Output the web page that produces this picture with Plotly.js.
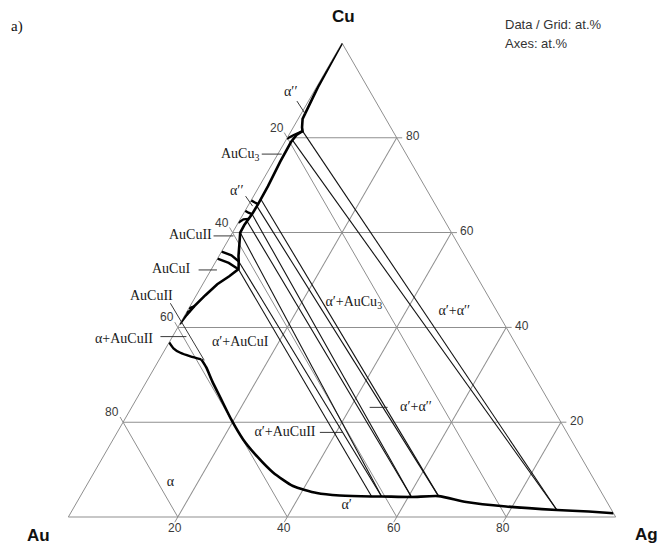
<!DOCTYPE html>
<html>
<head>
<meta charset="utf-8">
<script src="https://cdn.plot.ly/plotly-3.0.1.min.js"></script>
<style>
  html, body { margin: 0; padding: 0; background: #fff; }
  #chart { width: 662px; height: 549px; }
</style>
</head>
<body>
<div id="chart"></div>
<script>
// Au–Cu–Ag isothermal section, compositions in at.% (Cu, Ag); Au = 100 - Cu - Ag.

// Boundary of the ordered / Cu-rich phases along the Au–Cu side
const orderedSideCu = [100, 90.7, 84.0, 82.2, 81.4, 80.6, 79.1, 74.9, 69.8, 66.0, 63.9, 61.6, 60.0, 57.5, 55.1, 54.0, 52.3, 50.8, 49.1, 46.8, 44.5, 42.6, 40.7];
const orderedSideAg = [0, 0.25, 0.8, 1.6, 2.1, 1.4, 1.13, 1.24, 1.58, 1.67, 1.62, 1.35, 1.4, 2.5, 3.54, 4.13, 4.95, 4.0, 2.66, 1.64, 0.78, 0.29, 0];

// α / α+AuCuII boundary
const alphaSideCu = [36.85, 35.6, 34.65, 33.9, 33.26];
const alphaSideAg = [0, 1.4, 3.15, 5.35, 7.66];

// α′ (Ag-rich) boundary
const silverSideCu = [33.26, 31.57, 28.62, 25.24, 20.59, 16.37, 12.78, 9.4, 6.55, 5.07, 4.54, 4.33, 4.33, 4.22, 4.4, 3.17, 2.22, 1.48, 1.16, 0.8];
const silverSideAg = [7.66, 9.42, 11.99, 15.13, 19.46, 23.75, 28.1, 32.7, 37.77, 42.87, 47.32, 53.25, 55.07, 60.58, 65.44, 71.12, 78.87, 88.52, 94.51, 99.2];

// Narrow two-phase gaps between ordered phases (null separates strokes)
const gapCu = [79.8, 80.6, 81.4, null, 66.8, 66.4, 66.0, null, 64.6, 64.2, 63.9, null, 62.1, 62.8, 62.9, null, 56.0, 55.2, 53.96, null, 54.5, 53.6, 52.27, null, 44.0, 44.46, null, 43.1, 43.5];
const gapAg = [0, 0.9, 2.1, null, 0, 0.8, 1.67, null, 0, 0.8, 1.62, null, 0, 0.6, 1.5, null, 0, 2.2, 4.13, null, 0, 2.5, 4.95, null, 0, 0.78, null, 0, 0.55];

// Tie lines of the three-phase triangles
const tieFromCu = [52.27, 53.96, 60.0, 62.41, 63.89, 65.58, 67.05, 79.5, 81.4];
const tieFromAg = [4.95, 4.13, 1.4, 1.45, 1.63, 1.66, 1.65, 1.2, 2.1];
const tieToCu = [4.33, 4.33, 4.33, 4.22, 4.22, 4.4, 4.4, 1.48, 1.48];
const tieToAg = [53.25, 55.07, 55.07, 60.58, 60.58, 65.44, 65.44, 88.52, 88.52];

// Leader lines for the phase labels
const leaderFromCu = [76.56, 87.75, 67.69, 59.3, 52.12, 38.06, 45.09, 17.85, 23.13];
const leaderFromAg = [-2.94, -2.11, -1.46, -3.12, -2.26, -2.2, -3.9, 37.03, 43.49];
const leaderToCu = [76.56, 85.0, 65.58, 59.3, 52.12, 38.06, 33.05, 17.85, 23.13];
const leaderToAg = [0.7, 0.81, 0.88, 0.52, 1.09, 2.54, 8.31, 41.22, 46.77];

// Phase field labels inside the triangle
const fieldLabels = ['α′+AuCuI', 'α′+AuCu<sub>3</sub>', 'α′+α′′', 'α′+α′′', 'α′+AuCuII', 'α', 'α′'];
const fieldLabelCu = [36.85, 45.3, 43.4, 23.13, 17.85, 7.29, 2.43];
const fieldLabelAg = [12.96, 29.49, 48.82, 51.95, 30.66, 15.01, 49.65];

// Phase labels beside the Au–Cu side
const sideLabels = ['α′′', 'AuCu<sub>3</sub>', 'α′′', 'AuCuII', 'AuCuI', 'AuCuII', 'α+AuCuII'];
const sideLabelCu = [89.76, 76.56, 68.95, 59.66, 52.42, 46.78, 37.70];
const sideLabelAg = [-4.21, -6.94, -3.82, -7.54, -7.37, -8.19, -8.66];

// Axis graduation (at.%)
const tickValues = [20, 40, 60, 80];
const componentNames = ['Cu', 'Au', 'Ag'];
const componentLabelCu = [105.49, -3.91, -3.70];
const componentLabelAg = [-2.43, -3.42, 107.49];

const GRID = '#8f8f8f';
const SERIF = 'Liberation Serif, Times New Roman, serif';
const SANS = 'Liberation Sans, Arial, sans-serif';

// Plot area and the equilateral triangle that the ternary subplot fits into it
const margin = { l: 67, r: 45, t: 43, b: 32 };
const plotW = 662 - margin.l - margin.r, plotH = 549 - margin.t - margin.b;
const triW = Math.min(plotW, plotH * 2 / Math.sqrt(3));
const triH = triW * Math.sqrt(3) / 2;
const triX0 = (plotW - triW) / 2 / plotW;

// composition (Cu, Ag) -> paper coordinates of the ternary subplot
function paperX(cu, ag) { return triX0 + (triW / plotW) * (ag + cu / 2) / 100; }
function paperY(cu) { return (plotH - triH) / 2 / plotH + (triH / plotH) * cu / 100; }

function auOf(cu, ag) {
  return cu.map((v, i) => (v === null || ag[i] === null) ? null : 100 - v - ag[i]);
}

function segments(fromCu, fromAg, toCu, toAg) {
  const cu = [], ag = [];
  fromCu.forEach((v, i) => {
    cu.push(v, toCu[i], null);
    ag.push(fromAg[i], toAg[i], null);
  });
  return { cu, ag };
}

function lineTrace(cu, ag, width, color, shape) {
  return {
    type: 'scatterternary', mode: 'lines',
    a: cu, b: auOf(cu, ag), c: ag,
    line: { color: color, width: width, shape: shape || 'linear', smoothing: 0.6 },
    connectgaps: false, hoverinfo: 'skip', showlegend: false
  };
}

const ties = segments(tieFromCu, tieFromAg, tieToCu, tieToAg);

const traces = [
  lineTrace(ties.cu, ties.ag, 1.1, '#111'),
  lineTrace(orderedSideCu, orderedSideAg, 2.6, '#000'),
  lineTrace(alphaSideCu, alphaSideAg, 2.4, '#000', 'spline'),
  lineTrace(silverSideCu, silverSideAg, 2.6, '#000', 'spline'),
  lineTrace(gapCu, gapAg, 2.4, '#000'),
  {
    type: 'scatterternary', mode: 'text',
    a: fieldLabelCu, b: auOf(fieldLabelCu, fieldLabelAg), c: fieldLabelAg,
    text: fieldLabels, textposition: 'middle center',
    textfont: { family: SERIF, size: 14, color: '#1a1a1a' },
    hoverinfo: 'skip', showlegend: false
  }
];

// Leader lines and tick marks reach outside the triangle, so they are drawn as shapes
function segment(cu0, ag0, cu1, ag1, color, width) {
  return {
    type: 'line', xref: 'paper', yref: 'paper', layer: 'above',
    x0: paperX(cu0, ag0), y0: paperY(cu0), x1: paperX(cu1, ag1), y1: paperY(cu1),
    line: { color: color, width: width }
  };
}

const shapes = [];
leaderFromCu.forEach((cu, i) => shapes.push(
  segment(cu, leaderFromAg[i], leaderToCu[i], leaderToAg[i], '#222', 0.9)));
tickValues.forEach(v => {
  shapes.push(segment(100 - v, 0, 100 - v + 1.1, -1.1, GRID, 1));   // Au, left side
  shapes.push(segment(v, 100 - v, v, 100 - v + 1.0, GRID, 1));       // Cu, right side
  shapes.push(segment(0, v, -1.1, v, GRID, 1));                      // Ag, base
});

// Tick label anchors just outside each side
const tickLabelCu = [], tickLabelAg = [];
tickValues.forEach(v => {
  tickLabelCu.push(100 - v + 2.11); tickLabelAg.push(-3.0);
  tickLabelCu.push(v + 0.32); tickLabelAg.push(100 - v + 2.75);
  tickLabelCu.push(-2.32); tickLabelAg.push(v + 0.61);
});

function note(cu, ag, text, font) {
  return {
    xref: 'paper', yref: 'paper', x: paperX(cu, ag), y: paperY(cu),
    text: text, showarrow: false, xanchor: 'center', yanchor: 'middle',
    borderpad: 0, font: font
  };
}

const annotations = [];
sideLabels.forEach((t, i) => annotations.push(
  note(sideLabelCu[i], sideLabelAg[i], t, { family: SERIF, size: 14, color: '#1a1a1a' })));
tickValues.forEach((v, i) => {
  for (let k = 0; k < 3; k++) {
    const j = i * 3 + k;
    annotations.push(note(tickLabelCu[j], tickLabelAg[j], String(v),
      { family: SANS, size: 12, color: '#3a3a3a' }));
  }
});
componentNames.forEach((n, i) => annotations.push(
  note(componentLabelCu[i], componentLabelAg[i], '<b>' + n + '</b>',
    { family: SANS, size: 17, color: '#111' })));

annotations.push(
  { xref: 'paper', yref: 'paper', x: -0.091, y: 1.034, text: 'a)', showarrow: false,
    xanchor: 'center', yanchor: 'middle',
    font: { family: SERIF, size: 15, color: '#111' } },
  { xref: 'paper', yref: 'paper', x: 0.793, y: 1.040, text: 'Data / Grid: at.%', showarrow: false,
    xanchor: 'left', yanchor: 'middle',
    font: { family: SANS, size: 13, color: '#333' } },
  { xref: 'paper', yref: 'paper', x: 0.793, y: 1.000, text: 'Axes: at.%', showarrow: false,
    xanchor: 'left', yanchor: 'middle',
    font: { family: SANS, size: 13, color: '#333' } }
);

function axis() {
  return {
    min: 0, tick0: 0, dtick: 20,
    showgrid: true, gridcolor: GRID, gridwidth: 1,
    showline: true, linecolor: GRID, linewidth: 1,
    ticks: '', showticklabels: false, layer: 'below traces',
    title: { text: '' }
  };
}

const layout = {
  width: 662, height: 549,
  margin: margin,
  paper_bgcolor: '#fff',
  showlegend: false,
  ternary: {
    sum: 100, bgcolor: '#fff',
    domain: { x: [0, 1], y: [0, 1] },
    aaxis: axis(), baxis: axis(), caxis: axis()
  },
  shapes: shapes,
  annotations: annotations
};

Plotly.newPlot('chart', traces, layout, { staticPlot: true, displayModeBar: false });
</script>
</body>
</html>
